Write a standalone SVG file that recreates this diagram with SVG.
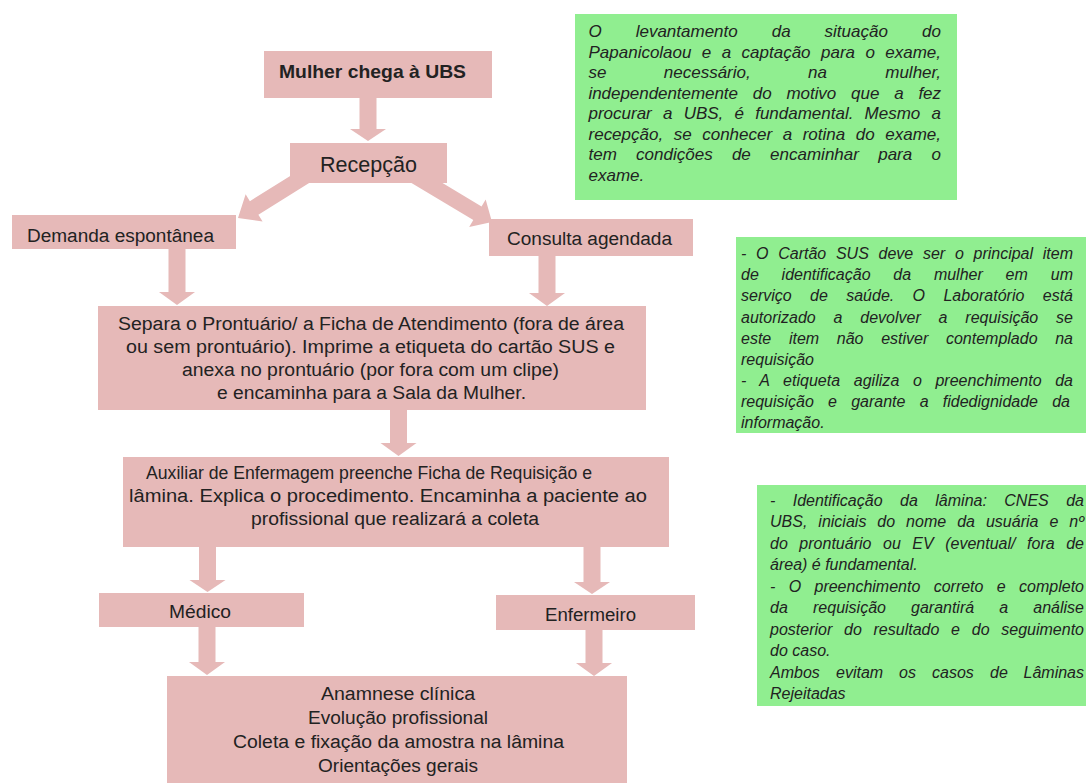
<svg xmlns="http://www.w3.org/2000/svg" width="1086" height="783" viewBox="0 0 1086 783">
<style>
.pk{fill:#E6B9B8}
.gr{fill:#90EE90}
.t{font-family:"Liberation Sans",Arial,sans-serif;font-size:18px;fill:#222}
.b{font-weight:bold;font-size:19px}
.i{font-family:"Liberation Sans",Arial,sans-serif;font-size:16px;font-style:italic;fill:#222}
.i1{font-size:17px}
.e{text-anchor:end}
</style>
<rect width="1086" height="783" fill="#fff"/>
<g id="connectors" class="pk">
<polygon points="359.5,98 376.5,98 376.5,129 386,129 368,141 350,129 359.5,129"/>
<polygon transform="translate(238,218) rotate(148)" points="-85,-8 -19,-8 -19,-16 0,0 -19,16 -19,8 -85,8"/>
<polygon transform="translate(492,222) rotate(31)" points="-95,-8 -17,-8 -17,-16 0,0 -17,16 -17,8 -95,8"/>
<polygon points="168.5,249 185.5,249 185.5,292 195,292 177,305 159,292 168.5,292"/>
<polygon points="538.5,256 555.5,256 555.5,293 565,293 547,306 529,293 538.5,293"/>
<polygon points="390,410 407,410 407,443 416.5,443 398.5,456 380.5,443 390,443"/>
<polygon points="199,547 216,547 216,580 225.5,580 207.5,592 189.5,580 199,580"/>
<polygon points="583.5,547 600.5,547 600.5,582 610,582 592,594 574,582 583.5,582"/>
<polygon points="198.5,627 215.5,627 215.5,662 225,662 207,675 189,662 198.5,662"/>
<polygon points="585.5,630 602.5,630 602.5,663 612,663 594,676 576,663 585.5,663"/>
</g>
<g id="mulher">
<rect class="pk" x="264" y="51" width="228" height="47"/>
<text class="t b" x="279" y="78" textLength="187" lengthAdjust="spacingAndGlyphs">Mulher chega à UBS</text>
</g>
<g id="recepcao">
<rect class="pk" x="290" y="143" width="157" height="40"/>
<text class="t" x="320" y="172" style="font-size:21.5px" textLength="97" lengthAdjust="spacingAndGlyphs">Recepção</text>
</g>
<g id="demanda">
<rect class="pk" x="12" y="215" width="224" height="34"/>
<text class="t" x="27" y="242" textLength="187" lengthAdjust="spacingAndGlyphs">Demanda espontânea</text>
</g>
<g id="consulta">
<rect class="pk" x="489" y="219" width="204" height="37"/>
<text class="t" x="507" y="245" textLength="165" lengthAdjust="spacingAndGlyphs">Consulta agendada</text>
</g>
<g id="separa">
<rect class="pk" x="98" y="306" width="548" height="104"/>
<text class="t" x="118" y="330" textLength="506" lengthAdjust="spacingAndGlyphs">Separa o Prontuário/ a Ficha de Atendimento (fora de área</text>
<text class="t" x="126" y="353" textLength="489" lengthAdjust="spacingAndGlyphs">ou sem prontuário). Imprime a etiqueta do cartão SUS e</text>
<text class="t" x="182" y="376" textLength="377" lengthAdjust="spacingAndGlyphs">anexa no prontuário (por fora com um clipe)</text>
<text class="t" x="217" y="399" textLength="309" lengthAdjust="spacingAndGlyphs">e encaminha para a Sala da Mulher.</text>
</g>
<g id="auxiliar">
<rect class="pk" x="123" y="457" width="546" height="90"/>
<text class="t" x="146" y="479" textLength="446" lengthAdjust="spacingAndGlyphs">Auxiliar de Enfermagem preenche Ficha de Requisição e</text>
<text class="t" x="129" y="502" textLength="518" lengthAdjust="spacingAndGlyphs">lâmina. Explica o procedimento. Encaminha a paciente ao</text>
<text class="t" x="251" y="525" textLength="288" lengthAdjust="spacingAndGlyphs">profissional que realizará a coleta</text>
</g>
<g id="medico">
<rect class="pk" x="99" y="593" width="205" height="34"/>
<text class="t" x="169" y="618" textLength="62" lengthAdjust="spacingAndGlyphs">Médico</text>
</g>
<g id="enfermeiro">
<rect class="pk" x="496" y="595" width="199" height="35"/>
<text class="t" x="545" y="621" textLength="91" lengthAdjust="spacingAndGlyphs">Enfermeiro</text>
</g>
<g id="anamnese">
<rect class="pk" x="167" y="676" width="460" height="107"/>
<text class="t" x="321" y="700" textLength="154" lengthAdjust="spacingAndGlyphs">Anamnese clínica</text>
<text class="t" x="308" y="724" textLength="180" lengthAdjust="spacingAndGlyphs">Evolução profissional</text>
<text class="t" x="233" y="748" textLength="331" lengthAdjust="spacingAndGlyphs">Coleta e fixação da amostra na lâmina</text>
<text class="t" x="318" y="772" textLength="160" lengthAdjust="spacingAndGlyphs">Orientações gerais</text>
</g>
<g id="nota1">
<rect class="gr" x="575" y="14" width="382" height="186"/>
<g class="i i1">
<text x="588.5" y="37">O</text>
<text x="635.7" y="37">levantamento</text>
<text x="771.7" y="37">da</text>
<text x="824.6" y="37">situação</text>
<text class="e" x="941" y="37">do</text>
<text x="588.5" y="57.5" word-spacing="5.7" textLength="352.5" lengthAdjust="spacing">Papanicolaou e a captação para o exame,</text>
<text x="588.5" y="78">se</text>
<text x="663.8" y="78">necessário,</text>
<text x="808" y="78">na</text>
<text class="e" x="941" y="78">mulher,</text>
<text x="588.5" y="98.5" word-spacing="10.2" textLength="352.5" lengthAdjust="spacing">independentemente do motivo que a fez</text>
<text x="588.5" y="119" word-spacing="6.5" textLength="352.5" lengthAdjust="spacing">procurar a UBS, é fundamental. Mesmo a</text>
<text x="588.5" y="139.5" word-spacing="5.8" textLength="352.5" lengthAdjust="spacing">recepção, se conhecer a rotina do exame,</text>
<text x="588.5" y="160">tem</text>
<text x="636.1" y="160">condições</text>
<text x="731.9" y="160">de</text>
<text x="770.1" y="160">encaminhar</text>
<text x="878.2" y="160">para</text>
<text class="e" x="941" y="160">o</text>
<text x="588.5" y="180.5">exame.</text>
</g>
</g>
<g id="nota2">
<rect class="gr" x="736" y="237" width="350" height="196"/>
<g class="i">
<text x="741" y="259" word-spacing="5.3" textLength="332" lengthAdjust="spacing">- O Cartão SUS deve ser o principal item</text>
<text x="741" y="280">de</text>
<text x="781.6" y="280">identificação</text>
<text x="893.3" y="280">da</text>
<text x="933.9" y="280">mulher</text>
<text x="1005.6" y="280">em</text>
<text class="e" x="1073" y="280">um</text>
<text x="741" y="301" word-spacing="13.9" textLength="332" lengthAdjust="spacing">serviço de saúde. O Laboratório está</text>
<text x="741" y="322.5" word-spacing="13.4" textLength="332" lengthAdjust="spacing">autorizado a devolver a requisição se</text>
<text x="741" y="344" word-spacing="13.2" textLength="332" lengthAdjust="spacing">este item não estiver contemplado na</text>
<text x="741" y="365">requisição</text>
<text x="741" y="386" word-spacing="9.1" textLength="332" lengthAdjust="spacing">- A etiqueta agiliza o preenchimento da</text>
<text x="741" y="407" word-spacing="9.8" textLength="329" lengthAdjust="spacing">requisição e garante a fidedignidade da</text>
<text x="741" y="428">informação.</text>
</g>
</g>
<g id="nota3">
<rect class="gr" x="757" y="485" width="329" height="221"/>
<g class="i">
<text x="770" y="505.5">-</text>
<text x="792.7" y="505.5">Identificação</text>
<text x="900.1" y="505.5">da</text>
<text x="935.3" y="505.5">lâmina:</text>
<text x="1004.3" y="505.5">CNES</text>
<text class="e" x="1084" y="505.5">da</text>
<text x="770" y="527" word-spacing="6.5" textLength="314" lengthAdjust="spacing">UBS, iniciais do nome da usuária e nº</text>
<text x="770" y="548.5" word-spacing="7.1" textLength="314" lengthAdjust="spacing">do prontuário ou EV (eventual/ fora de</text>
<text x="770" y="570">área) é fundamental.</text>
<text x="770" y="591.5" word-spacing="8.9" textLength="314" lengthAdjust="spacing">- O preenchimento correto e completo</text>
<text x="770" y="613">da</text>
<text x="813" y="613">requisição</text>
<text x="911" y="613">garantirá</text>
<text x="999.3" y="613">a</text>
<text class="e" x="1084" y="613">análise</text>
<text x="770" y="634.5" word-spacing="7.3" textLength="314" lengthAdjust="spacing">posterior do resultado e do seguimento</text>
<text x="770" y="656">do caso.</text>
<text x="770" y="677.5">Ambos</text>
<text x="836" y="677.5">evitam</text>
<text x="899" y="677.5">os</text>
<text x="932" y="677.5">casos</text>
<text x="990" y="677.5">de</text>
<text class="e" x="1084" y="677.5">Lâminas</text>
<text x="770" y="699">Rejeitadas</text>
</g>
</g>
</svg>
